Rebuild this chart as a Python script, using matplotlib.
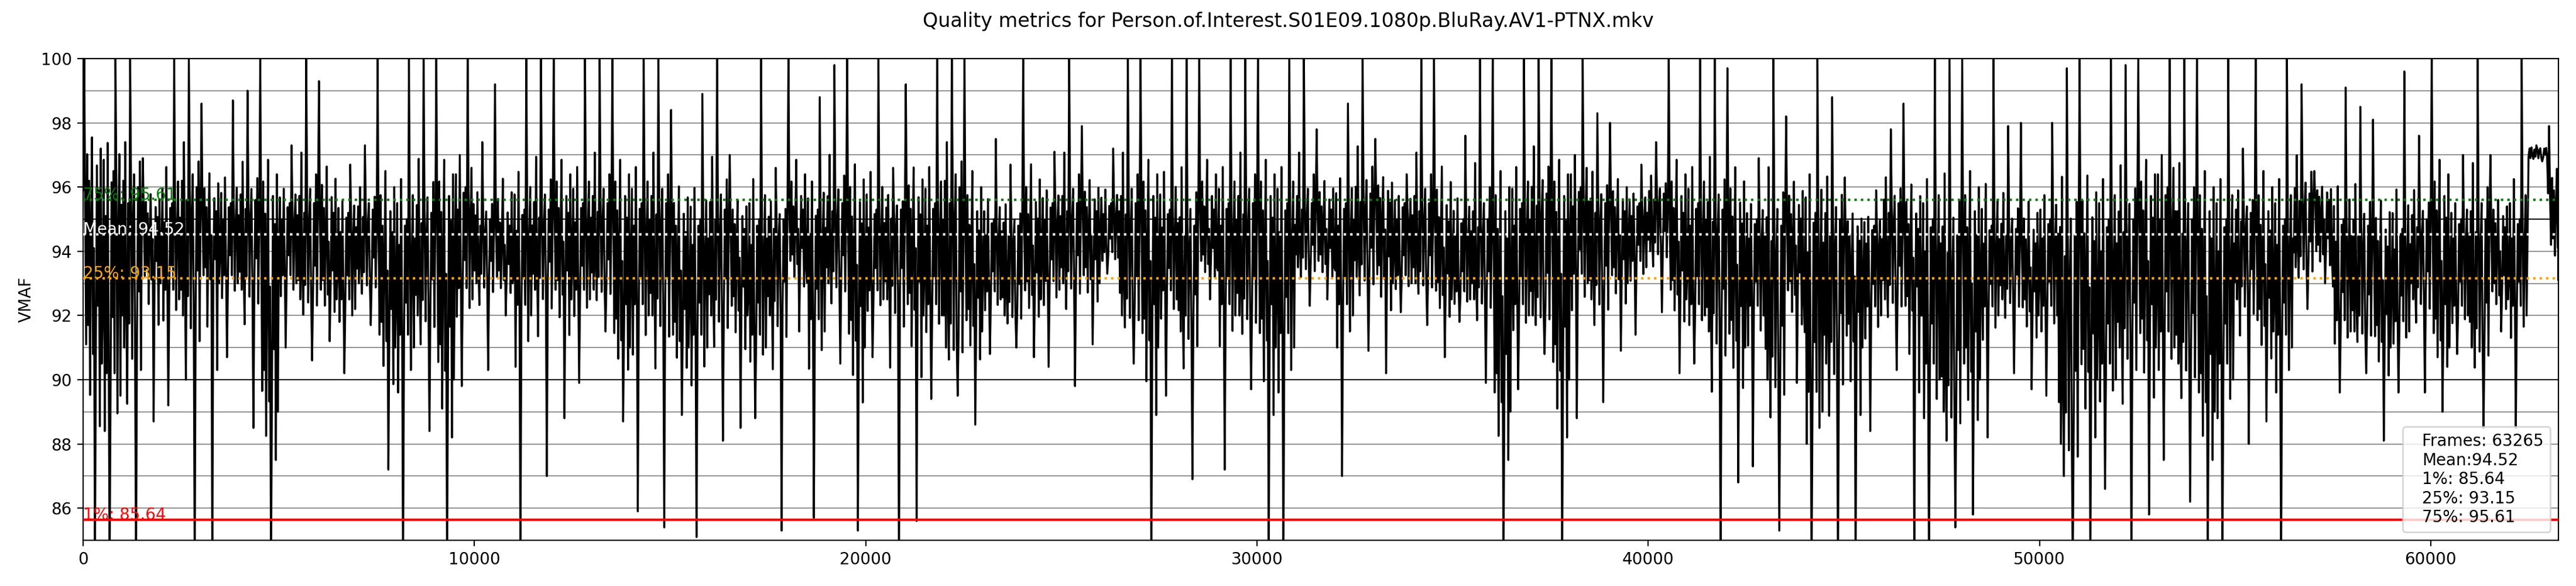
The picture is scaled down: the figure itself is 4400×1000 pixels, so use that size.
import numpy as np
import matplotlib.pyplot as plt

title = "Quality metrics for Person.of.Interest.S01E09.1080p.BluRay.AV1-PTNX.mkv"
n_frames = 63265
bin_size = 500
vmaf_mean = 94.52
p1 = 85.64
p25 = 93.15
p75 = 95.61

# VMAF per 500-frame bin: peak, dip and the dense band
vmaf_max = [100, 100, 100, 96.9, 100, 100, 98.6, 98.7, 99.0, 100,
            97.3, 100, 99.3, 96.7, 97.3, 100, 100, 100, 100, 100,
            97.4, 99.2, 100, 100, 100, 100, 100, 100, 100, 100,
            98.4, 98.9, 100, 97.0, 100, 96.6, 100, 98.8, 99.8, 100,
            100, 96.6, 99.2, 100, 100, 100, 97.5, 96.7, 100, 97.1,
            100, 97.9, 97.2, 100, 100, 100, 100, 100, 100, 100,
            100, 100, 100, 97.8, 98.6, 100, 97.5, 96.4, 100, 100,
            97.6, 100, 100, 100, 100, 100, 100, 98.3, 98.0, 96.7,
            97.4, 100, 100, 100, 99.7, 96.9, 100, 98.2, 100, 98.8,
            96.3, 95.9, 97.8, 98.6, 100, 100, 100, 100, 97.9, 98.0,
            98.0, 99.7, 100, 100, 99.8, 100, 100, 100, 100, 100,
            97.2, 100, 100, 99.2, 96.5, 99.1, 98.5, 98.1, 99.6, 97.6,
            100, 97.0, 100, 97.0, 100, 97.3, 97.9]
vmaf_min = [84.0, 84.0, 84.0, 88.7, 89.2, 84.0, 84.0, 90.7, 88.5, 84.0,
            91.0, 90.6, 91.2, 90.2, 91.7, 87.2, 84.0, 88.4, 84.0, 89.8,
            90.3, 92.0, 84.0, 87.0, 88.8, 89.9, 91.5, 88.7, 85.9, 85.4,
            88.9, 85.1, 88.1, 88.5, 88.8, 85.3, 91.5, 85.7, 90.5, 85.3,
            90.7, 84.0, 85.6, 89.4, 89.5, 88.6, 90.8, 91.0, 90.7, 90.4,
            89.8, 91.1, 93.3, 90.5, 84.0, 89.5, 86.9, 92.5, 87.2, 89.7,
            84.0, 84.0, 92.3, 92.5, 87.0, 90.9, 90.2, 92.1, 91.7, 90.7,
            91.8, 89.9, 84.0, 89.7, 90.8, 84.0, 88.8, 89.3, 90.9, 91.4,
            92.1, 90.2, 90.5, 84.0, 86.8, 87.3, 85.3, 89.9, 84.0, 84.0,
            84.0, 88.4, 90.3, 84.0, 84.0, 85.4, 85.8, 88.2, 90.2, 89.7,
            89.5, 84.0, 84.0, 86.6, 84.0, 85.8, 87.5, 86.2, 84.0, 84.0,
            88.0, 88.7, 84.0, 92.2, 93.0, 89.6, 90.2, 88.1, 89.6, 89.6,
            89.0, 90.8, 88.5, 91.5, 88.5, 96.8, 93.1]
band_hi = [96.5, 96.5, 96.0, 95.3, 95.5, 96.0, 95.5, 95.5, 95.6, 95.5,
           95.5, 95.5, 95.5, 95.2, 95.3, 95.0, 95.0, 95.2, 95.5, 96.0,
           95.0, 95.0, 95.3, 95.3, 95.5, 95.5, 95.5, 95.5, 95.5, 95.5,
           95.0, 95.0, 95.3, 95.0, 95.0, 95.0, 95.5, 95.3, 95.5, 95.3,
           95.3, 95.3, 95.5, 95.5, 96.0, 95.0, 95.0, 94.8, 95.3, 95.5,
           95.5, 95.5, 95.5, 95.5, 95.5, 95.3, 94.8, 95.5, 95.5, 95.5,
           95.5, 95.5, 95.5, 95.5, 95.5, 95.8, 95.8, 95.5, 95.5, 95.2,
           95.0, 95.0, 95.0, 95.5, 95.8, 95.5, 96.0, 95.5, 95.5, 95.5,
           95.8, 95.5, 95.5, 95.3, 95.3, 95.0, 94.8, 95.3, 95.2, 95.0,
           94.7, 94.8, 95.5, 95.0, 95.0, 94.5, 95.0, 94.8, 94.7, 94.5,
           95.0, 94.5, 94.8, 95.0, 95.0, 95.5, 96.0, 95.0, 95.0, 95.0,
           95.2, 95.0, 95.0, 95.8, 95.8, 95.0, 94.8, 94.5, 94.7, 95.0,
           95.5, 95.0, 95.0, 95.0, 95.0, 97.2, 96.0]
band_lo = [90.5, 89.5, 91.0, 93.0, 92.5, 92.0, 93.0, 93.0, 92.8, 89.0,
           93.0, 92.5, 92.5, 92.2, 93.0, 91.0, 91.0, 92.0, 90.0, 92.5,
           93.0, 93.0, 92.0, 92.8, 92.5, 92.5, 92.8, 91.0, 92.0, 92.0,
           91.0, 91.0, 92.0, 92.0, 91.0, 92.0, 93.5, 91.5, 93.0, 91.0,
           92.5, 92.5, 92.0, 92.0, 91.0, 91.5, 92.5, 92.0, 92.5, 92.8,
           93.0, 93.0, 93.8, 92.0, 91.0, 92.5, 91.5, 93.5, 92.0, 92.0,
           91.0, 91.0, 93.5, 93.5, 92.0, 93.2, 93.0, 93.0, 93.0, 92.5,
           92.5, 92.5, 89.0, 92.0, 92.0, 90.0, 93.0, 92.5, 93.0, 93.5,
           94.0, 92.5, 92.0, 91.5, 91.0, 92.0, 90.0, 92.5, 89.0, 90.5,
           91.0, 92.0, 92.5, 92.0, 90.0, 89.0, 90.0, 92.0, 92.5, 92.0,
           92.0, 88.0, 90.0, 90.0, 91.0, 91.0, 91.0, 90.5, 89.0, 90.0,
           92.5, 91.5, 91.0, 93.5, 93.8, 91.5, 91.5, 91.0, 91.5, 92.5,
           91.0, 92.0, 91.0, 92.5, 92.0, 96.9, 94.0]

stats_label = "\n".join(["Frames: %d" % n_frames, "Mean:%.2f" % vmaf_mean,
                         "1%%: %.2f" % p1, "25%%: %.2f" % p25, "75%%: %.2f" % p75])

# stroke order inside one bin. level 0..1 runs across the band,
# 1..2 from the band top up to the peak, 0..-1 from the band bottom to the dip
paths = [
    [0.9, 2.0, 0.85, 0.1, 1.15, 0.2, 0.95, -0.15, 0.7, 1.3,
     0.05, 0.6, -1.0, 0.15, 1.05, 0.3, 0.9, -0.3, 1.2, 0.0],
    [0.4, 1.1, -0.2, 0.8, 0.1, 1.25, 0.25, -1.0, 0.05, 0.95,
     0.35, 1.0, 0.1, 2.0, 0.9, -0.1, 0.75, 1.15, 0.0, 0.85],
    [0.2, 1.05, 0.0, 1.35, 0.3, -0.25, 0.9, 0.15, 2.0, 0.95,
     -0.05, 0.8, 1.1, 0.05, -1.0, 0.1, 1.0, 0.35, 1.2, -0.1],
]


def level_to_vmaf(k, lev):
    lo, hi = band_lo[k], band_hi[k]
    if lev > 1:
        return hi + (lev - 1) * (vmaf_max[k] - hi)
    if lev < 0:
        return lo + lev * (lo - vmaf_min[k])
    return lo + lev * (hi - lo)


xs, ys = [], []
for k in range(len(vmaf_max)):
    path = paths[k % 3]
    step = bin_size / len(path)
    for i, lev in enumerate(path):
        xs.append(min(k * bin_size + i * step, n_frames - 1))
        ys.append(level_to_vmaf(k, lev))

fig, ax = plt.subplots(figsize=(22, 5), dpi=200)
fig.subplots_adjust(left=0.0323, right=0.9932, bottom=0.078, top=0.90)

for v in range(86, 100):
    ax.axhline(v, color='gray', lw=0.6, zorder=0)
ax.axhline(90, color='black', lw=0.7, zorder=0.5)
ax.axhline(95, color='black', lw=0.7, zorder=0.5)

ax.plot(xs, ys, color='black', lw=1.2, zorder=2)

ax.axhline(p1, color='red', lw=1.5, zorder=3)
ax.axhline(p25, color='orange', lw=1.5, ls=':', zorder=3)
ax.axhline(vmaf_mean, color='white', lw=1.5, ls=':', zorder=3)
ax.axhline(p75, color='green', lw=1.5, ls=':', zorder=3)
ax.text(0, p1, "1%%: %.2f" % p1, color='red', zorder=4)
ax.text(0, p25, "25%%: %.2f" % p25, color='orange', zorder=4)
ax.text(0, vmaf_mean, "Mean: %.2f" % vmaf_mean, color='white', zorder=4)
ax.text(0, p75, "75%%: %.2f" % p75, color='green', zorder=4)

ax.set_xlim(0, n_frames)
ax.set_ylim(85, 100)
ax.set_yticks(range(86, 101, 2))
ax.set_ylabel("VMAF")

ax.legend(handles=[plt.Line2D([], [], linestyle='none', label=stats_label)],
          loc='lower right', handlelength=0)
fig.suptitle(title)

fig.savefig("out.png")
